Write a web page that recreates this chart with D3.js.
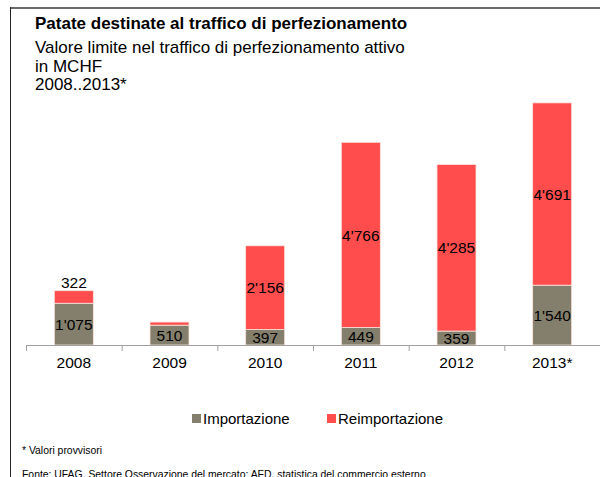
<!DOCTYPE html>
<html><head><meta charset="utf-8">
<script src="https://cdn.jsdelivr.net/npm/d3@7/dist/d3.min.js"></script>
<style>body{margin:0;background:#fff;}svg{display:block;font-family:"Liberation Sans",Arial,sans-serif;}</style>
</head><body>
<svg id="c" width="600" height="477"></svg>
<script>
const categories = ["2008","2009","2010","2011","2012","2013*"];
const importazione = [1075, 510, 397, 449, 359, 1540];
const reimportazione = [322, 80, 2156, 4766, 4285, 4691];
const reimportLabels = ["322", "", "2'156", "4'766", "4'285", "4'691"];
const importLabels = ["1'075", "510", "397", "449", "359", "1'540"];
const seriesNames = ["Importazione", "Reimportazione"];
const colors = ["#847f6c", "#ff4d4d"];

const svg = d3.select("#c");
// frame
svg.append("line").attr("x1",10).attr("x2",600).attr("y1",8).attr("y2",8).attr("stroke","#6a6a6a").attr("stroke-width",2);
svg.append("line").attr("x1",10.5).attr("x2",10.5).attr("y1",7).attr("y2",477).attr("stroke","#222").attr("stroke-width",1);

// titles
svg.append("text").attr("x",35).attr("y",29).attr("font-size",17).attr("font-weight","bold").text("Patate destinate al traffico di perfezionamento");
["Valore limite nel traffico di perfezionamento attivo","in MCHF","2008..2013*"].forEach((t,i)=>{
  svg.append("text").attr("x",35).attr("y",53+i*18.5).attr("font-size",17).text(t);
});

const x = d3.scaleBand().domain(categories).range([26,600]).paddingInner(0).paddingOuter(0);
const y = d3.scaleLinear().domain([0,7000]).range([345,73]);
const bw = 39;

const data = categories.map((c,i)=>({cat:c, imp:importazione[i], rei:reimportazione[i]}));
const stack = d3.stack().keys(["imp","rei"])(data);

stack.forEach((s,k)=>{
  svg.append("g").selectAll("rect").data(s).join("rect")
    .attr("x",d=>x(d.data.cat)+x.bandwidth()/2-bw/2)
    .attr("width",bw)
    .attr("y",d=>y(d[1]))
    .attr("height",d=>y(d[0])-y(d[1]))
    .attr("fill",colors[k])
    .attr("stroke","#fbe3dc").attr("stroke-width",0.8);
});

// axis
const ax = svg.append("g").attr("transform","translate(0,345)").call(d3.axisBottom(x).tickSize(0).tickPadding(12));
ax.select(".domain").attr("stroke","#a0a0a0");
ax.selectAll("text").attr("font-size",15.5).attr("fill","#000").attr("font-family","Liberation Sans, Arial, sans-serif");
const bounds = categories.map(c=>x(c)).concat([x.range()[1]]);
svg.append("g").selectAll("line").data(bounds).join("line")
  .attr("x1",d=>d+0.5).attr("x2",d=>d+0.5).attr("y1",345).attr("y2",351).attr("stroke","#a0a0a0");

// labels
stack[0].forEach((d,i)=>{
  svg.append("text").attr("x",x(d.data.cat)+x.bandwidth()/2).attr("y",(y(d[0])+y(d[1]))/2)
    .attr("dy","0.36em").attr("text-anchor","middle").attr("font-size",15.5).text(importLabels[i]);
});
stack[1].forEach((d,i)=>{
  if(!reimportLabels[i]) return;
  let cy = (y(d[0])+y(d[1]))/2;
  if (y(d[0])-y(d[1]) < 20) cy = y(d[1]) - 8;
  svg.append("text").attr("x",x(d.data.cat)+x.bandwidth()/2).attr("y",cy)
    .attr("dy","0.36em").attr("text-anchor","middle").attr("font-size",15.5).text(reimportLabels[i]);
});

// legend
const lx = [192, 327];
seriesNames.forEach((n,i)=>{
  svg.append("rect").attr("x",lx[i]).attr("y",414).attr("width",9).attr("height",9).attr("fill",colors[i]);
  svg.append("text").attr("x",lx[i]+11).attr("y",424).attr("font-size",15).text(n);
});

svg.append("text").attr("x",22).attr("y",454).attr("font-size",10.4).text("* Valori provvisori");
svg.append("text").attr("x",22).attr("y",478).attr("font-size",10.4).text("Fonte: UFAG, Settore Osservazione del mercato; AFD, statistica del commercio esterno");
</script>
</body></html>
